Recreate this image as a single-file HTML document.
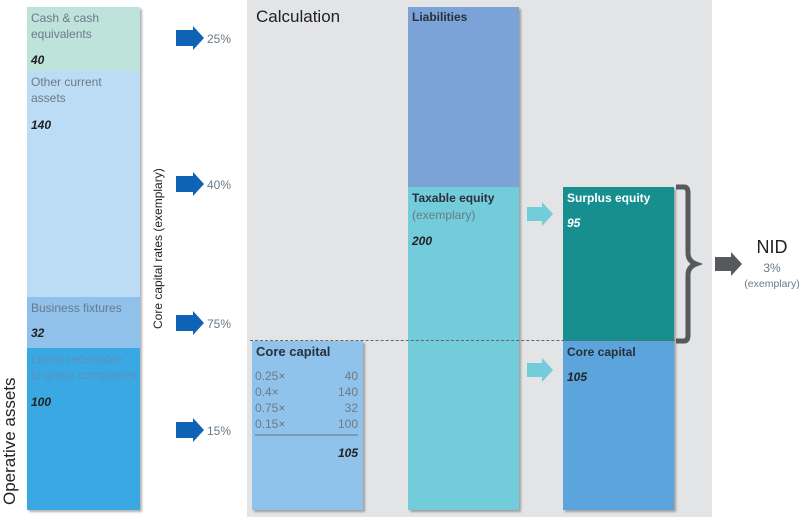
<!DOCTYPE html><html><head><style>
body{margin:0;width:800px;height:517px;background:#fff;position:relative;overflow:hidden;font-family:"Liberation Sans","DejaVu Sans",sans-serif;}
div{position:absolute;box-sizing:border-box}
.t{font-size:12px;color:#6b7a88;line-height:16px}
.b{font-size:12px;font-weight:bold;color:#222;font-style:italic}
.h{font-size:12px;font-weight:bold;color:#2a2f3a}
.sh{box-shadow:2px 2px 2px rgba(0,0,0,.3)}
</style></head><body>
<div style="left:247px;top:0;width:465px;height:517px;background:#e3e4e6"></div>
<div class="sh" style="left:27px;top:7px;width:113px;height:503px;background:#3aa9e3"></div>
<div style="left:27px;top:7px;width:113px;height:64px;background:#bde3da"></div>
<div style="left:27px;top:71px;width:113px;height:226px;background:#bcdcf5"></div>
<div style="left:27px;top:297px;width:113px;height:51px;background:#8fc1ea"></div>
<div class="t" style="left:31px;top:10px">Cash &amp; cash<br>equivalents</div>
<div class="b" style="left:31px;top:53px">40</div>
<div class="t" style="left:31px;top:74px">Other current<br>assets</div>
<div class="b" style="left:31px;top:118px">140</div>
<div class="t" style="left:31px;top:300px">Business fixtures</div>
<div class="b" style="left:31px;top:326px">32</div>
<div class="t" style="left:31px;top:351px;color:#5a8fc0">Loans receivable<br>to group companies</div>
<div class="b" style="left:31px;top:395px">100</div>
<div style="left:-55px;top:430px;width:130px;font-size:17px;color:#222;transform:rotate(-90deg);white-space:nowrap">Operative assets</div>
<div style="left:78px;top:242px;width:160px;font-size:12px;color:#222;transform:rotate(-90deg);white-space:nowrap;text-align:center">Core capital rates (exemplary)</div>
<svg style="position:absolute;left:0;top:0" width="800" height="517">
<g fill="#0f63b4">
<polygon points="176,30 193,30 193,26 204,38 193,50 193,46 176,46"/>
<polygon points="176,176 193,176 193,172 204,184 193,196 193,192 176,192"/>
<polygon points="176,315 193,315 193,311 204,323 193,335 193,331 176,331"/>
<polygon points="176,422 193,422 193,418 204,430 193,442 193,438 176,438"/>
</g>
<g fill="#72ccd9">
<polygon points="527,207 542,207 542,202 553,214 542,226 542,221 527,221"/>
<polygon points="527,363 542,363 542,358 553,370 542,382 542,377 527,377"/>
</g>
<polygon fill="#58595b" points="715,257 731,257 731,252 742,264 731,276 731,271 715,271"/>
</svg>
<div class="t" style="left:207px;top:31px">25%</div>
<div class="t" style="left:207px;top:177px">40%</div>
<div class="t" style="left:207px;top:316px">75%</div>
<div class="t" style="left:207px;top:423px">15%</div>
<div style="left:256px;top:7px;font-size:17px;color:#222">Calculation</div>
<div class="sh" style="left:408px;top:7px;width:111px;height:180px;background:#7ba3d8"></div>
<div class="sh" style="left:408px;top:187px;width:111px;height:323px;background:#72ccd9"></div>
<div class="h" style="left:412px;top:10px">Liabilities</div>
<div class="h" style="left:412px;top:191px">Taxable equity</div>
<div class="t" style="left:412px;top:207px">(exemplary)</div>
<div class="b" style="left:412px;top:234px">200</div>
<div class="sh" style="left:252px;top:341px;width:111px;height:169px;background:#8fc3ec"></div>
<div class="h" style="left:256px;top:344px;font-size:13px">Core capital</div>
<div class="t" style="left:255px;top:368px;width:103px;line-height:16px">0.25×<span style="float:right">40</span><br>0.4×<span style="float:right">140</span><br>0.75×<span style="float:right">32</span><br>0.15×<span style="float:right">100</span></div>
<div style="left:255px;top:434px;width:103px;height:2px;background:#7d99b0"></div>
<div class="b" style="left:300px;top:446px;width:58px;text-align:right">105</div>
<div class="sh" style="left:563px;top:187px;width:111px;height:154px;background:#178f8f"></div>
<div class="sh" style="left:563px;top:341px;width:111px;height:169px;background:#5ba4dc"></div>
<div class="h" style="left:567px;top:191px;color:#fff">Surplus equity</div>
<div class="b" style="left:567px;top:216px;color:#fff">95</div>
<div class="h" style="left:567px;top:345px">Core capital</div>
<div class="b" style="left:567px;top:370px">105</div>
<div style="left:250px;top:340px;width:430px;border-top:1px dashed #666"></div>
<svg style="position:absolute;left:670px;top:183px" width="40" height="162"><path d="M6,4 H14 Q18,4 18,10 V70 Q18,78 26,81 Q18,84 18,92 V152 Q18,158 14,158 H6" fill="none" stroke="#58595b" stroke-width="5"/></svg>
<div style="left:744px;top:237px;width:56px;text-align:center">
<div style="position:static;font-size:18px;color:#222">NID</div>
<div class="t" style="position:static;margin-top:2px">3%</div>
<div class="t" style="position:static;font-size:10.5px;white-space:nowrap">(exemplary)</div>
</div>
</body></html>
